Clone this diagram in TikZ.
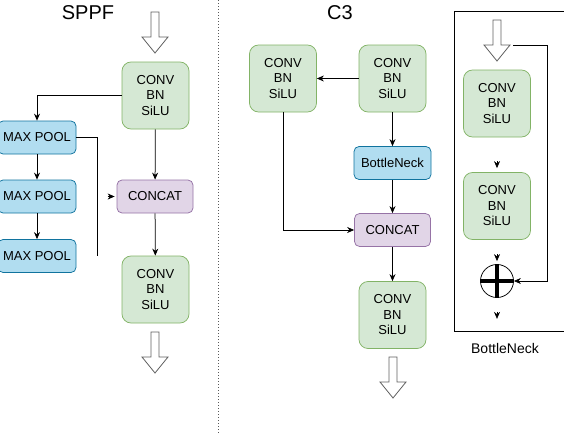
\documentclass[tikz,border=0pt]{standalone}
\usepackage{fontspec}
\setmainfont{Liberation Sans}
\usetikzlibrary{calc,arrows.meta}
\usepackage{xcolor}
\definecolor{convfill}{HTML}{D5E8D4}
\definecolor{convline}{HTML}{82B366}
\definecolor{poolfill}{HTML}{B1DDF0}
\definecolor{poolline}{HTML}{10739E}
\definecolor{catfill}{HTML}{E1D5E7}
\definecolor{catline}{HTML}{9673A6}
% hollow arrow: x, top of shaft, tip
\newcommand{\bigarrow}[3]{\draw[gray!75!black,fill=white,line width=0.8pt,line join=miter] (#1-4,#2) -- (#1+4,#2) -- (#1+4,#3-16) -- (#1+13,#3-16) -- (#1,#3) -- (#1-13,#3-16) -- (#1-4,#3-16) -- cycle;}

\tikzset{
  conv/.style={draw=convline, fill=convfill, rounded corners=9pt, minimum width=67pt, minimum height=67pt, align=center, font=\fontsize{13}{15.5}\selectfont},
  pool/.style={draw=poolline, fill=poolfill, rounded corners=5pt, minimum width=78pt, minimum height=33pt, font=\fontsize{13}{15.5}\selectfont, inner sep=1pt},
  cat/.style={draw=catline, fill=catfill, rounded corners=5pt, minimum width=76pt, minimum height=33pt, font=\fontsize{13}{15.5}\selectfont},
  title/.style={font=\fontsize{20}{24}\selectfont},
  tip/.style={-{Stealth[length=7pt,width=6pt]}}
}

\begin{document}
\begin{tikzpicture}[x=1pt,y=-1pt,line width=0.75pt]
  \useasboundingbox (0,0) rectangle (564,434);

  % SPPF
  \node[title] (tsppf) at (88,13) {SPPF};
  \bigarrow{155}{12}{53}
  \node[conv] (sconv1) at (155.5,95.5) {CONV\\BN\\SiLU};
  \node[pool] (pool1) at (37,137.5) {MAX POOL};
  \node[pool] (pool2) at (37,196.5) {MAX POOL};
  \node[pool] (pool3) at (37,256) {MAX POOL};
  \node[cat] (scat) at (155,196.5) {CONCAT};
  \node[conv] (sconv2) at (155.5,289.5) {CONV\\BN\\SiLU};
  \coordinate (sbreak) at (97,256);
  \draw[tip] (sconv1.west) -| (pool1.north);
  \draw[tip] (pool1) -- (pool2);
  \draw[tip] (pool2) -- (pool3);
  \draw (pool1.east) -| (sbreak);
  \draw[tip] ($(scat.west)+(-9,0)$) -- ($(scat.west)+(-2,0)$);
  \draw[tip] (sconv1) -- (scat);
  \draw[tip] (scat) -- (sconv2);
  \bigarrow{155}{332}{373}

  \draw[gray!70!black,dash pattern=on 1pt off 2pt,line width=1pt] (218,0) -- (218,434);

  % C3
  \node[title] (tc3) at (340,13) {C3};
  \node[conv] (cconv1) at (283,78.5) {CONV\\BN\\SiLU};
  \node[conv] (cconv2) at (392.5,78.5) {CONV\\BN\\SiLU};
  \node[pool, minimum width=77pt] (neck) at (392.5,163) {BottleNeck};
  \node[cat] (ccat) at (392.5,230) {CONCAT};
  \node[conv] (cconv3) at (392.5,315) {CONV\\BN\\SiLU};
  \draw[tip] (cconv2) -- (cconv1);
  \draw[tip] (cconv2) -- (neck);
  \draw[tip] (neck) -- (ccat);
  \draw[tip] (cconv1) |- (ccat);
  \draw[tip] (ccat) -- (cconv3);
  \bigarrow{393}{357}{398}

  % BottleNeck
  \draw (564,11) -- (454,11) -- (454,331) -- (564,331);
  \bigarrow{497}{20}{61}
  \node[conv] (bconv1) at (497,103.5) {CONV\\BN\\SiLU};
  \node[conv] (bconv2) at (497,206) {CONV\\BN\\SiLU};
  \node[circle,draw,minimum size=33pt,inner sep=0pt] (plus) at (497,281) {};
  \draw[line width=4pt] (plus.north) -- (plus.south);
  \draw[line width=4pt] (plus.west) -- (plus.east);
  \coordinate (bsplit) at (513,45);
  \draw[tip] (bsplit) -- ++(34,0) |- (plus.east);
  \draw[tip] ($(bconv2.north)+(0,-11)$) -- ($(bconv2.north)+(0,-4)$);
  \draw[tip] ($(plus.north)+(0,-10)$) -- ($(plus.north)+(0,-3)$);
  \draw[tip] ($(plus.south)+(0,14)$) -- ($(plus.south)+(0,21)$);
  \node[font=\fontsize{14}{16}\selectfont] (tneck) at (505,348) {BottleNeck};
\end{tikzpicture}
\end{document}
